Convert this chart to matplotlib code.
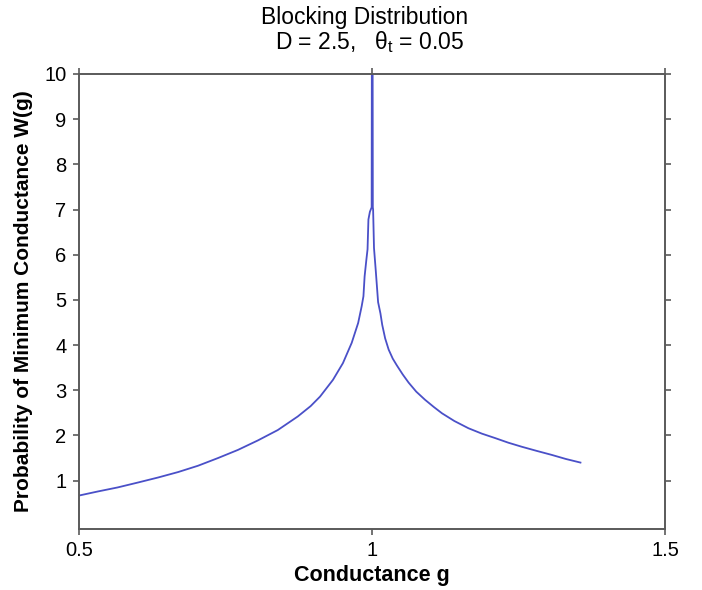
import matplotlib
matplotlib.use("Agg")
import matplotlib.pyplot as plt

plt.rcParams['font.family'] = ['Liberation Sans', 'DejaVu Sans']
plt.rcParams['mathtext.fontset'] = 'custom'
plt.rcParams['mathtext.rm'] = 'Liberation Sans'
plt.rcParams['mathtext.it'] = 'Liberation Sans'
plt.rcParams['mathtext.bf'] = 'Liberation Sans:bold'

# Conductance g and blocking probability W(g); the spike at g = 1 runs off the top
g_left = [0.500, 0.532, 0.566, 0.601, 0.635, 0.669, 0.703, 0.737, 0.771, 0.805,
          0.839, 0.873, 0.895, 0.911, 0.933, 0.950, 0.965, 0.976, 0.982, 0.985,
          0.987, 0.990, 0.992, 0.9935, 0.996, 0.9990, 0.9995]
w_left = [0.67, 0.76, 0.85, 0.96, 1.07, 1.19, 1.33, 1.50, 1.68, 1.89,
          2.12, 2.42, 2.65, 2.86, 3.23, 3.60, 4.05, 4.49, 4.86, 5.08,
          5.52, 5.89, 6.12, 6.78, 6.95, 7.05, 12.0]
g_right = [1.0005, 1.0010, 1.0015, 1.003, 1.006, 1.008, 1.010, 1.014, 1.017, 1.022,
           1.028, 1.035, 1.042, 1.052, 1.062, 1.075, 1.090, 1.105, 1.119, 1.140,
           1.164, 1.187, 1.210, 1.232, 1.255, 1.280, 1.306, 1.330, 1.355]
w_right = [12.0, 7.05, 7.00, 6.15, 5.65, 5.30, 4.95, 4.70, 4.45, 4.15,
           3.90, 3.70, 3.55, 3.35, 3.17, 2.97, 2.79, 2.63, 2.49, 2.32,
           2.16, 2.04, 1.94, 1.84, 1.75, 1.66, 1.57, 1.48, 1.40]

g = g_left + g_right
w = w_left + w_right

x_ticks = [0.5, 1.0, 1.5]
x_tick_labels = ["0.5", "1", "1.5"]
y_ticks = list(range(1, 11))

fig = plt.figure(figsize=(7.02, 5.90), dpi=100)
ax = fig.add_axes([0.1125, 0.1034, 0.8355, 0.7712])

ax.plot(g, w, color='#4a50c8', lw=1.3, solid_joinstyle='miter')

ax.set_xlim(0.5, 1.5)
ax.set_ylim(-0.07, 10)
ax.set_xticks(x_ticks)
ax.set_xticklabels(x_tick_labels)
ax.set_yticks(y_ticks)

for s in ax.spines.values():
    s.set_color('#5a5a5a')
    s.set_linewidth(1.4)

ax.tick_params(axis='both', direction='out', length=4, width=1.2, color='#5a5a5a',
               labelsize=14.5, pad=5, top=True, right=True)

ax.set_xlabel("Conductance g", fontsize=15.5, fontweight='bold', labelpad=3)
ax.set_ylabel("Probability of Minimum Conductance W(g)", fontsize=15,
              fontweight='bold', labelpad=8)

fig.text(0.52, 0.971, "Blocking Distribution", ha='center', va='center', fontsize=16.5)
fig.text(0.527, 0.929, r"D = 2.5,   $\theta_{\rm t}$ = 0.05", ha='center', va='center',
         fontsize=16.5)

fig.savefig("out.png", dpi=100, facecolor='white')
